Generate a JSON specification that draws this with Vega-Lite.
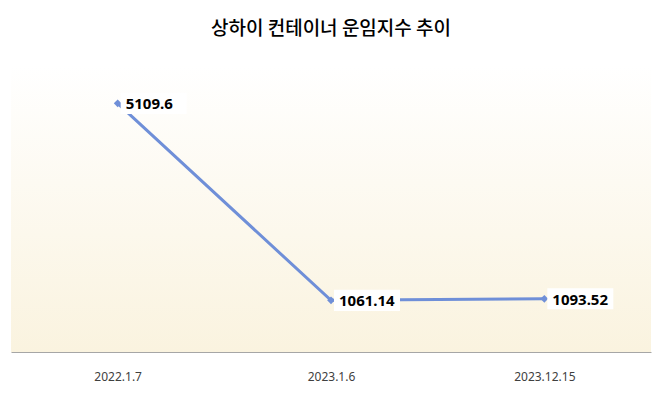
{
  "$schema": "https://vega.github.io/schema/vega-lite/v6.json",
  "width": 640,
  "height": 292,
  "autosize": {"type": "none"},
  "padding": {"left": 11, "top": 60, "right": 9, "bottom": 48},
  "background": "#ffffff",
  "title": {
    "text": "상하이 컨테이너 운임지수 추이",
    "font": "Noto Sans CJK KR",
    "fontSize": 19,
    "fontWeight": 500,
    "color": "#000000",
    "anchor": "middle",
    "baseline": "alphabetic",
    "offset": 6
  },
  "data": {
    "values": [
      {"date": "2022.1.7", "index": 5109.6, "label": "5109.6"},
      {"date": "2023.1.6", "index": 1061.14, "label": "1061.14"},
      {"date": "2023.12.15", "index": 1093.52, "label": "1093.52"}
    ]
  },
  "layer": [
    {
      "data": {"values": [{}]},
      "mark": {
        "type": "rect",
        "color": {
          "gradient": "linear",
          "x1": 0, "y1": 0, "x2": 0, "y2": 1,
          "stops": [
            {"offset": 0, "color": "#ffffff"},
            {"offset": 1, "color": "#faf3df"}
          ]
        }
      },
      "encoding": {
        "y": {"datum": 5900, "type": "quantitative", "scale": {"domain": [0, 5900]}, "axis": null},
        "y2": {"datum": 0}
      }
    },
    {
      "mark": {"type": "line", "color": "#6f8fd8", "strokeWidth": 3},
      "encoding": {
        "x": {
          "field": "date", "type": "nominal", "sort": null,
          "scale": {"type": "point", "padding": 0.5},
          "axis": {
            "title": null, "labelAngle": 0, "ticks": false, "grid": false,
            "labelPadding": 19, "labelFont": "Noto Sans", "labelFontSize": 12,
            "labelColor": "#404040", "domainColor": "#a6a6a6"
          }
        },
        "y": {"field": "index", "type": "quantitative"}
      }
    },
    {
      "mark": {"type": "point", "shape": "diamond", "filled": true, "opacity": 1, "size": 60, "color": "#6f8fd8"},
      "encoding": {
        "x": {"field": "date", "type": "nominal", "sort": null},
        "y": {"field": "index", "type": "quantitative"}
      }
    },
    {
      "mark": {"type": "point", "shape": "M-1,-0.32H1V0.32H-1Z", "filled": true, "opacity": 1, "size": 4356, "color": "#ffffff", "xOffset": 36},
      "encoding": {
        "x": {"field": "date", "type": "nominal", "sort": null},
        "y": {"field": "index", "type": "quantitative"}
      }
    },
    {
      "mark": {"type": "text", "align": "left", "baseline": "middle", "dx": 8, "dy": 1, "font": "Noto Sans", "fontSize": 15, "fontWeight": "bold", "color": "#000000"},
      "encoding": {
        "x": {"field": "date", "type": "nominal", "sort": null},
        "y": {"field": "index", "type": "quantitative"},
        "text": {"field": "label"}
      }
    }
  ],
  "config": {"view": {"stroke": null}}
}
